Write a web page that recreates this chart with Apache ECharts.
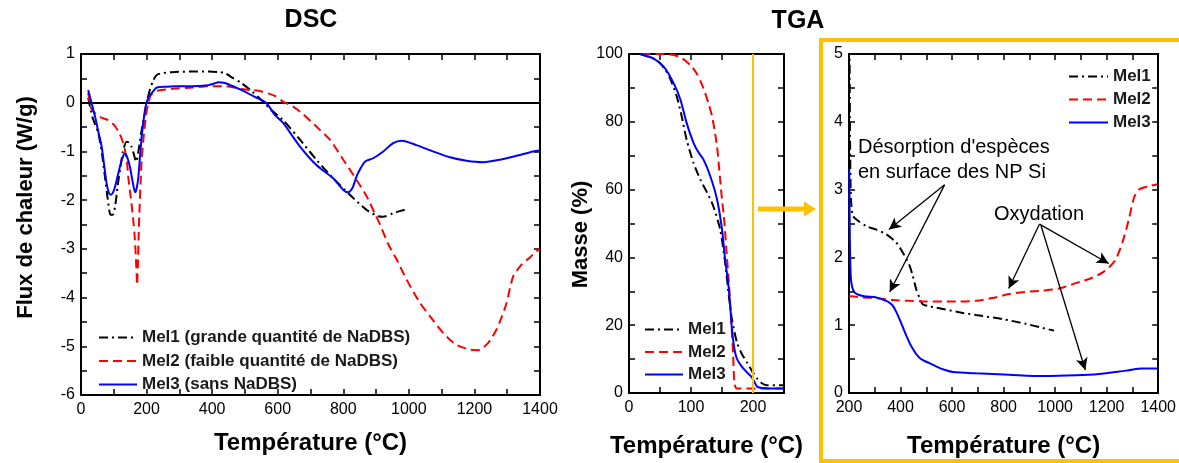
<!DOCTYPE html>
<html>
<head>
<meta charset="utf-8">
<script src="https://cdn.jsdelivr.net/npm/echarts@6/dist/echarts.min.js"></script>
<style>html,body{margin:0;padding:0;background:#fff;}#c{width:1179px;height:463px;}</style>
</head>
<body>
<div id="c"></div>
<script>
// ---------- DATA ----------
const dscNames = ['Mel1 (grande quantité de NaDBS)', 'Mel2 (faible quantité de NaDBS)', 'Mel3 (sans NaDBS)'];
const tgaNames = ['Mel1', 'Mel2', 'Mel3'];

const dscMel1 = [[22,0.1],[35,-0.3],[53,-0.63],[65,-1.1],[73,-1.52],[82,-2.0],[90,-2.3],[97,-2.3],[104,-2.13],[112,-1.7],[119,-1.38],[128,-1.0],[139,-0.8],[147,-0.82],[154,-0.9],[161,-1.05],[168,-1.21],[174,-1.05],[180,-0.77],[188,-0.45],[195,-0.22],[202,0.05],[210,0.26],[220,0.45],[231,0.57],[250,0.61],[287,0.63],[340,0.64],[388,0.64],[420,0.63],[439,0.61],[460,0.52],[490,0.4],[520,0.24],[551,0.05],[580,-0.15],[617,-0.36],[668,-0.76],[718,-1.17],[769,-1.55],[820,-1.89],[871,-2.2],[906,-2.33],[922,-2.34],[952,-2.27],[975,-2.22],[998,-2.18]];
const dscMel2 = [[22,0.2],[30,-0.1],[43,-0.22],[60,-0.3],[84,-0.36],[100,-0.45],[114,-0.59],[125,-0.75],[134,-0.97],[140,-1.2],[144,-1.52],[150,-1.85],[155,-2.13],[160,-2.45],[163,-2.68],[166,-3.0],[168,-3.29],[170,-3.55],[171,-3.74],[174,-3.2],[176,-2.7],[179,-2.1],[182,-1.6],[185,-1.17],[192,-0.63],[200,-0.18],[206,0.0],[213,0.16],[225,0.22],[236,0.25],[287,0.29],[340,0.31],[388,0.34],[439,0.34],[490,0.28],[520,0.26],[551,0.23],[591,0.14],[617,0.02],[647,-0.08],[680,-0.25],[718,-0.49],[759,-0.76],[800,-1.17],[840,-1.58],[871,-1.92],[896,-2.27],[912,-2.5],[937,-2.9],[963,-3.22],[993,-3.63],[1034,-4.11],[1064,-4.38],[1105,-4.73],[1145,-4.97],[1186,-5.07],[1211,-5.08],[1242,-4.93],[1267,-4.66],[1283,-4.4],[1298,-4.11],[1318,-3.57],[1343,-3.33],[1370,-3.17],[1389,-3.05],[1398,-3.0]];
const dscMel3 = [[22,0.26],[32,0.0],[43,-0.29],[53,-0.6],[63,-0.9],[70,-1.25],[78,-1.65],[85,-1.85],[91,-1.89],[97,-1.85],[104,-1.72],[112,-1.5],[119,-1.31],[127,-1.12],[134,-1.05],[141,-1.12],[149,-1.31],[157,-1.6],[165,-1.84],[170,-1.75],[175,-1.52],[180,-1.1],[185,-0.7],[191,-0.35],[197,-0.08],[205,0.1],[215,0.19],[231,0.31],[260,0.33],[287,0.34],[337,0.34],[388,0.36],[405,0.39],[419,0.42],[435,0.41],[449,0.38],[490,0.26],[530,0.12],[566,-0.01],[591,-0.25],[617,-0.42],[668,-0.9],[718,-1.28],[769,-1.55],[800,-1.79],[815,-1.84],[823,-1.8],[830,-1.72],[840,-1.52],[850,-1.38],[866,-1.21],[891,-1.14],[922,-1.0],[952,-0.83],[978,-0.78],[1023,-0.87],[1074,-1.0],[1125,-1.12],[1176,-1.19],[1227,-1.22],[1278,-1.17],[1328,-1.09],[1379,-1.0],[1398,-0.98]];

const tgaMel1 = [[18,100],[39,98.7],[50,97.3],[58,95.5],[66,92.9],[77,87.5],[85,81.6],[93,74.7],[104,67.9],[115,63],[126,59.1],[136,55.1],[147,48.3],[155,38.5],[161,28.7],[166,21.8],[174,15],[182,11.5],[190,9.1],[199,6.3],[207,4.2],[215,2.8],[223,2.3],[250,2.3]];
const tgaMel2 = [[20,100],[34,100],[50,100],[72,99.7],[85,98.8],[93,97.7],[101,96.3],[109,94.3],[116,91.7],[123,88.4],[129,85],[134,81.6],[138,77.5],[142,72.8],[147,63],[150,57],[153,52.2],[157,42.4],[161,32.6],[165,20.9],[168,11.1],[170,3.2],[174,1.3],[250,1.3]];
const tgaMel3 = [[18,100],[39,98.7],[56,96.3],[72,91.4],[83,86.5],[93,79.6],[104,73.8],[112,71],[120,68.9],[131,64],[142,57.1],[150,48.3],[155,39.5],[161,30.7],[166,18.9],[170,13],[174,10.1],[180,8.3],[185,7.1],[192,5.8],[198,4.7],[203,3],[207,1.8],[215,1.5],[234,1.3],[250,1.3]];

const zoomMel1 = [[202,5.4],[204,3.8],[207,2.9],[212,2.66],[215,2.61],[235,2.54],[267,2.46],[306,2.41],[345,2.34],[383,2.22],[409,2.07],[435,1.88],[448,1.72],[461,1.53],[474,1.4],[486,1.31],[510,1.28],[538,1.26],[628,1.19],[693,1.15],[796,1.09],[886,1.02],[951,0.96],[996,0.92]];
const zoomMel2 = [[200,1.43],[250,1.41],[306,1.40],[370,1.37],[435,1.36],[500,1.35],[564,1.35],[628,1.35],[693,1.36],[757,1.40],[822,1.46],[886,1.49],[951,1.51],[1015,1.54],[1080,1.62],[1144,1.70],[1185,1.78],[1209,1.85],[1235,1.97],[1261,2.22],[1286,2.56],[1306,2.88],[1325,3.0],[1364,3.05],[1398,3.08]];
const zoomMel3 = [[201,3.3],[203,2.4],[205,1.92],[209,1.63],[222,1.48],[254,1.43],[306,1.41],[330,1.38],[345,1.36],[358,1.33],[370,1.29],[383,1.2],[396,1.09],[409,0.97],[422,0.85],[435,0.74],[448,0.65],[464,0.56],[480,0.5],[512,0.44],[540,0.39],[564,0.35],[603,0.31],[693,0.29],[822,0.27],[951,0.25],[1080,0.26],[1170,0.28],[1274,0.33],[1338,0.36],[1398,0.36]];

// annotation arrows (data coordinates of the zoomed TGA panel)
const desorptionArrows = [[[571,3.07],[355,2.41]],[[571,3.07],[358,1.49]]];
const oxydationArrows = [[[939,2.49],[820,1.54]],[[939,2.49],[1208,1.91]],[[945,2.47],[1117,0.34]]];

// ---------- CHART ----------
const FONT = "'Liberation Sans', Arial, sans-serif";
const ORANGE = '#FFC000';
const styles = [
  {color:'#000000', type:[9,4,2,4]},
  {color:'#FF0000', type:[9,5]},
  {color:'#0000FF', type:'solid'}
];

function xAx(grid, min, max, interval, labelStep, pos, show, name, gap) {
  return {
    type:'value', gridIndex:grid, position:pos, min:min, max:max, interval:interval,
    axisLine:{show:true, onZero:false, lineStyle:{color:'#000', width:2}},
    axisTick:{show:true, inside:true, length:6, lineStyle:{color:'#000', width:1.5}},
    splitLine:{show:false},
    axisLabel:{show:show, margin:7, color:'#000', fontFamily:FONT, fontSize:16,
      formatter: v => (Math.round(v) % labelStep === 0 ? String(Math.round(v)) : '')},
    name: show ? name : '', nameLocation:'middle', nameGap:gap,
    nameTextStyle:{fontFamily:FONT, fontSize:24, fontWeight:'bold', color:'#000'}
  };
}
function yAx(grid, min, max, interval, labelStep, pos, show, name, gap, pad) {
  return {
    type:'value', gridIndex:grid, position:pos, min:min, max:max, interval:interval,
    axisLine:{show:true, onZero:false, lineStyle:{color:'#000', width:2}},
    axisTick:{show:true, inside:true, length:6, lineStyle:{color:'#000', width:1.5}},
    splitLine:{show:false},
    axisLabel:{show:show, margin:6, color:'#000', fontFamily:FONT, fontSize:16,
      formatter: v => { const r = Math.round(v*1000)/1000; return (Math.abs(r/labelStep - Math.round(r/labelStep)) < 1e-6) ? String(r) : ''; }},
    name: show && name ? name : '', nameLocation:'middle', nameGap:gap, nameRotate:90,
    nameTextStyle:{fontFamily:FONT, fontSize:22, fontWeight:'bold', color:'#000', padding:pad || 0}
  };
}

const series = [];
dscNames.forEach((n,i) => {
  series.push({name:n, type:'line', xAxisIndex:0, yAxisIndex:0, data:[dscMel1,dscMel2,dscMel3][i],
    showSymbol:false, symbol:'none', smooth:0.25, lineStyle:{width:2, color:styles[i].color, type:styles[i].type},
    itemStyle:{color:styles[i].color}, z:3});
});
series[0].markLine = {silent:true, symbol:'none', label:{show:false}, lineStyle:{color:'#000', width:2, type:'solid'}, data:[{yAxis:0}], z:2};
tgaNames.forEach((n,i) => {
  series.push({name:n, type:'line', xAxisIndex:2, yAxisIndex:2, data:[tgaMel1,tgaMel2,tgaMel3][i],
    showSymbol:false, symbol:'none', smooth:0.25, lineStyle:{width:2, color:styles[i].color, type:styles[i].type},
    itemStyle:{color:styles[i].color}, z:3});
});
series[3].markLine = {silent:true, symbol:'none', label:{show:false}, lineStyle:{color:ORANGE, width:2, type:'solid'}, data:[{xAxis:200}]};
tgaNames.forEach((n,i) => {
  series.push({name:n, type:'line', xAxisIndex:4, yAxisIndex:4, data:[zoomMel1,zoomMel2,zoomMel3][i],
    showSymbol:false, symbol:'none', smooth:0.25, clip:true, lineStyle:{width:2, color:styles[i].color, type:styles[i].type},
    itemStyle:{color:styles[i].color}, z:3});
});
series[6].markLine = {silent:true, symbol:['none','arrow'], symbolSize:[9,12], label:{show:false},
  lineStyle:{color:'#000', width:1.3, type:'solid'},
  data: desorptionArrows.concat(oxydationArrows).map(a => [{coord:a[0]},{coord:a[1]}])};

const legendText = {fontFamily:FONT, fontSize:17, fontWeight:'bold', color:'#1a1a1a'};
const legendItem = {color:'rgba(0,0,0,0)', borderColor:'rgba(0,0,0,0)', borderWidth:0, opacity:0};
const option = {
  animation:false,
  backgroundColor:'#fff',
  title:[
    {text:'DSC', left:311, top:8, textAlign:'center', padding:0, textStyle:{fontFamily:FONT, fontSize:25, fontWeight:'bold', color:'#000'}},
    {text:'TGA', left:798, top:9, textAlign:'center', padding:0, textStyle:{fontFamily:FONT, fontSize:25, fontWeight:'bold', color:'#000'}}
  ],
  grid:[
    {left:81, top:54, width:459, height:341},
    {left:629, top:54, width:155, height:340},
    {left:849, top:54, width:310, height:340}
  ],
  xAxis:[
    xAx(0, 0, 1400, 100, 200, 'bottom', true, 'Température (°C)', 36),
    xAx(0, 0, 1400, 100, 200, 'top', false),
    xAx(1, 0, 250, 50, 100, 'bottom', true, 'Température (°C)', 41),
    xAx(1, 0, 250, 50, 100, 'top', false),
    xAx(2, 200, 1400, 100, 200, 'bottom', true, 'Température (°C)', 41),
    xAx(2, 200, 1400, 100, 200, 'top', false)
  ],
  yAxis:[
    yAx(0, -6, 1, 0.5, 1, 'left', true, 'Flux de chaleur (W/g)', 44, [0,0,0,34]),
    yAx(0, -6, 1, 0.5, 1, 'right', false),
    yAx(1, 0, 100, 10, 20, 'left', true, 'Masse (%)', 36, [0,22,0,0]),
    yAx(1, 0, 100, 10, 20, 'right', false),
    yAx(2, 0, 5, 0.5, 1, 'left', true, '', 40),
    yAx(2, 0, 5, 0.5, 1, 'right', false)
  ],
  legend:[
    {data:dscNames, orient:'vertical', left:93, top:324, itemWidth:38, itemHeight:14, itemGap:6.5, textStyle:legendText, itemStyle:legendItem, selectedMode:false},
    {data:tgaNames, orient:'vertical', left:639, top:316, itemWidth:38, itemHeight:14, itemGap:5.5, textStyle:legendText, itemStyle:legendItem, selectedMode:false},
    {data:tgaNames, orient:'vertical', left:1063, top:63, itemWidth:39, itemHeight:14, itemGap:6, textStyle:legendText, itemStyle:legendItem, selectedMode:false}
  ],
  graphic:[
    {type:'rect', shape:{x:821, y:40, width:420, height:421}, style:{fill:null, stroke:ORANGE, lineWidth:4}, z:10, silent:true},
    {type:'polygon', shape:{points:[[758,206.5],[804,206.5],[804,201.5],[816,209],[804,216.5],[804,211.5],[758,211.5]]}, style:{fill:ORANGE}, z:10, silent:true},
    {type:'text', left:858, top:137, style:{text:"Désorption d'espèces", font:'20px ' + FONT, fill:'#000'}, z:10},
    {type:'text', left:858, top:162, style:{text:'en surface des NP Si', font:'20px ' + FONT, fill:'#000'}, z:10},
    {type:'text', left:994, top:204, style:{text:'Oxydation', font:'20px ' + FONT, fill:'#000'}, z:10}
  ],
  series:series
};
const chart = echarts.init(document.getElementById('c'), null, {renderer:'canvas'});
chart.setOption(option);
</script>
</body>
</html>
